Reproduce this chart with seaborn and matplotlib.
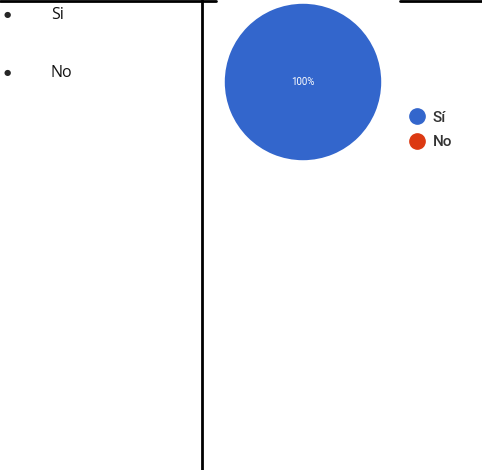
import matplotlib
matplotlib.use("Agg")
import matplotlib.pyplot as plt
import seaborn as sns
from matplotlib.lines import Line2D

options = ["Si", "No"]
labels = ["Sí", "No"]
values = [100, 0]
colors = ["#3366cc", "#dc3912"]

sns.set_style("white")
plt.rcParams["font.family"] = ["Open Sans", "DejaVu Sans"]

W, H = 482, 470
fig = plt.figure(figsize=(W / 100, H / 100), dpi=100)

# page lines (table borders)
def px_line(x0, y0, x1, y1, lw=2):
    fig.add_artist(Line2D([x0 / W, x1 / W], [1 - y0 / H, 1 - y1 / H],
                          transform=fig.transFigure, color="black", lw=lw))

px_line(0, 0.5, 216, 0.5)
px_line(400, 0.5, W, 0.5)
px_line(202, 0, 202, H)

# bullet list on the left
for i, opt in enumerate(options):
    y = 1 - (14 + i * 58) / H
    fig.text(7 / W, y, "●", fontsize=6, va="center", ha="center",
             family="DejaVu Sans")
    fig.text(51 / W, y - 1 / H, opt, fontsize=11.5, va="center", ha="left",
             color="#111111")

# pie chart
cx, cy, r = 303, 82, 79
ax = fig.add_axes([(cx - r) / W, 1 - (cy + r) / H, 2 * r / W, 2 * r / H])
wedges, texts, autotexts = ax.pie(
    values, colors=colors, startangle=90, counterclock=False,
    autopct=lambda p: f"{p:.0f}%" if p > 0 else "",
    pctdistance=0.0, textprops=dict(color="white", fontsize=7,
                                   family=["Roboto", "DejaVu Sans"]),
    wedgeprops=dict(linewidth=0))
ax.set_xlim(-1.01, 1.01)
ax.set_ylim(-1.01, 1.01)
ax.set_aspect("equal")
ax.axis("off")

handles = [Line2D([], [], marker="o", ls="", markersize=11,
                  markerfacecolor=c, markeredgecolor=c) for c in colors]
fig.legend(handles, labels, loc="upper left",
           bbox_to_anchor=(393 / W, 1 - 97 / H), frameon=False,
           handletextpad=0.3, labelspacing=0.68, handlelength=1.4,
           prop=dict(family=["Roboto", "DejaVu Sans"], size=11, weight="medium"),
           labelcolor="#333333")

fig.savefig("out.png", dpi=100)
